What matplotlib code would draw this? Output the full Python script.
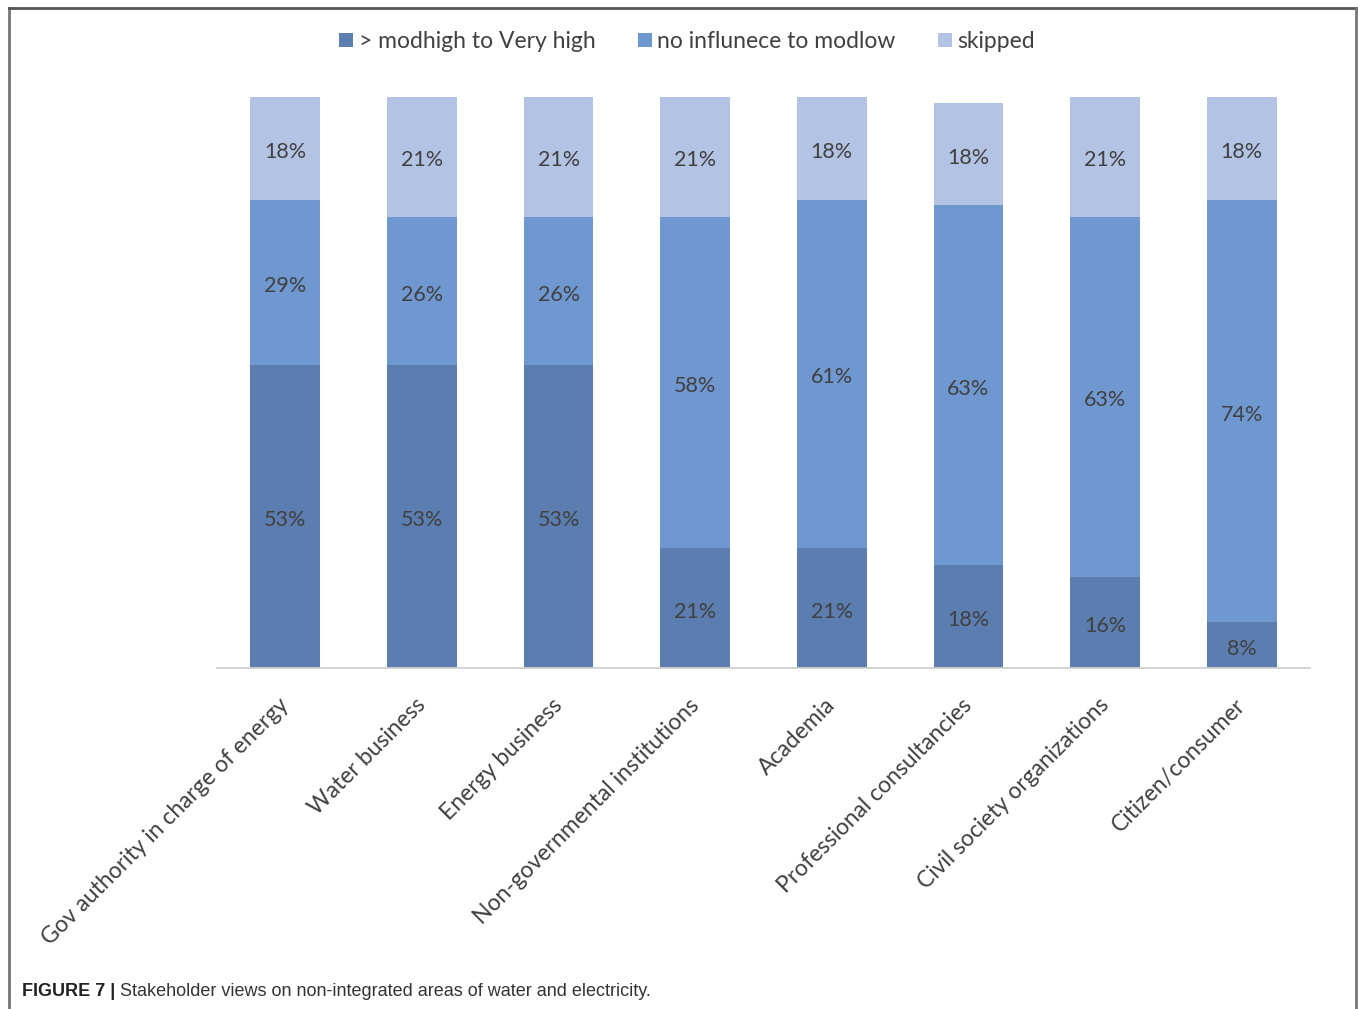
import matplotlib.pyplot as plt
from matplotlib.lines import Line2D
from matplotlib.transforms import ScaledTranslation

categories = ['Gov authority in charge of energy', 'Water business', 'Energy business',
              'Non-governmental institutions', 'Academia', 'Professional consultancies',
              'Civil society organizations', 'Citizen/consumer']
high = [53, 53, 53, 21, 21, 18, 16, 8]
low = [29, 26, 26, 58, 61, 63, 63, 74]
skipped = [18, 21, 21, 21, 18, 18, 21, 18]
series_names = ['> modhigh to Very high', 'no influnece to modlow', 'skipped']

colors = ['#5b7db0', '#6f97d0', '#b3c3e4']
txt_color = '#404040'
font = ['Lato', 'DejaVu Sans']

fig = plt.figure(figsize=(13.58, 10.09), dpi=100, facecolor='white')
ax = fig.add_axes([0.1598, 0.338, 0.8049, 0.5659])

# value labels sit a touch below the segment centre
down = ScaledTranslation(0, -3.5 / 100, fig.dpi_scale_trans)

x = list(range(len(categories)))
bottoms = [0] * len(x)
for vals, col, name in zip([high, low, skipped], colors, series_names):
    bars = ax.bar(x, vals, width=0.51, bottom=bottoms, color=col, label=name, zorder=2)
    for b, v, y0 in zip(bars, vals, bottoms):
        ax.text(b.get_x() + b.get_width() / 2, y0 + v / 2, f'{v}%',
                ha='center', va='center', fontsize=15.5, color=txt_color, family=font,
                transform=ax.transData + down)
    bottoms = [a + v for a, v in zip(bottoms, vals)]

ax.set_xlim(-0.5, 7.5)
ax.set_ylim(0, 100)
ax.set_yticks([])
for s in ['left', 'right', 'top']:
    ax.spines[s].set_visible(False)
ax.spines['bottom'].set_color('#d0d0d0')
ax.spines['bottom'].set_linewidth(1.3)
ax.set_xticks(x)
ax.set_xticklabels(categories, rotation=45, ha='right', va='top',
                   rotation_mode='anchor', fontsize=16.5, color=txt_color, family=font)
ax.tick_params(axis='x', length=0, pad=19)
shift = ScaledTranslation(-7 / 100, 0, fig.dpi_scale_trans)
for lbl in ax.get_xticklabels():
    lbl.set_transform(lbl.get_transform() + shift)

leg = fig.legend(loc='center', bbox_to_anchor=(0.506, 0.959), ncol=3, frameon=False,
                 handlelength=0.6, handleheight=0.6, handletextpad=0.25,
                 columnspacing=1.85, prop={'family': font, 'size': 16.5})
for t in leg.get_texts():
    t.set_color(txt_color)

# figure frame (left, top, right)
fc = '#777777'
fig.add_artist(Line2D([0.0063, 0.0063], [0.0, 0.992], color=fc, lw=2, transform=fig.transFigure))
fig.add_artist(Line2D([0.0063, 0.9985], [0.992, 0.992], color='#555555', lw=2, transform=fig.transFigure))
fig.add_artist(Line2D([0.9985, 0.9985], [0.0, 0.992], color=fc, lw=2, transform=fig.transFigure))

fig.text(0.016, 0.013, 'FIGURE 7 |', fontsize=13, fontweight='bold', color='#222222',
         family='Liberation Sans', va='baseline')
fig.text(0.0887, 0.013, 'Stakeholder views on non-integrated areas of water and electricity.',
         fontsize=13, color='#333333', family='Liberation Sans', va='baseline')

fig.savefig('out.png', dpi=100, facecolor='white')
